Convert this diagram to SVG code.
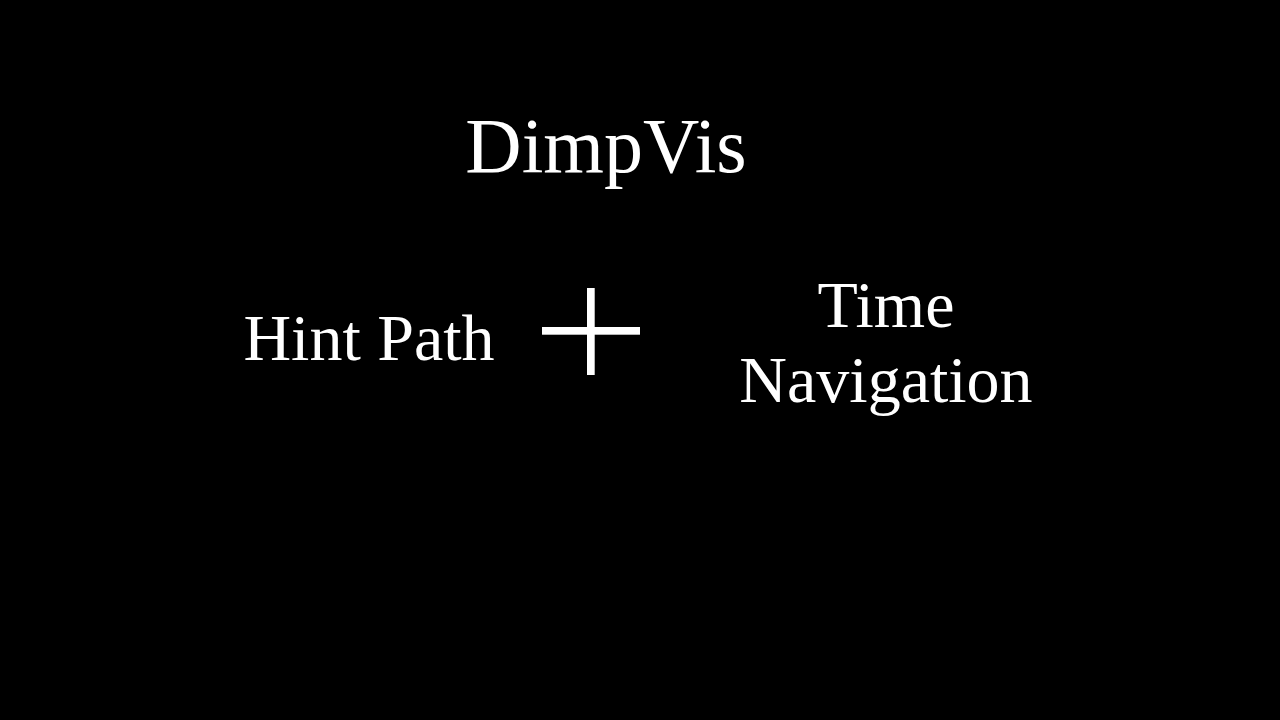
<svg xmlns="http://www.w3.org/2000/svg" width="1280" height="720" viewBox="0 0 1280 720">
<style>
.t{font-family:"Liberation Serif","DejaVu Serif",serif;fill:#fff}
</style>
<rect width="1280" height="720" fill="#000"/>
<g id="title"><text class="t" x="606" y="172" font-size="78" text-anchor="middle">DimpVis</text></g>
<g id="hint-path"><text class="t" x="369" y="360" font-size="66" text-anchor="middle">Hint Path</text></g>
<g id="plus"><rect x="542" y="327" width="98" height="7.7" fill="#fff"/><rect x="587" y="288" width="7.7" height="87" fill="#fff"/></g>
<g id="time-navigation"><text class="t" x="886" y="327" font-size="66" text-anchor="middle">Time</text><text class="t" x="886" y="402" font-size="66" text-anchor="middle">Navigation</text></g>
<g id="connectors"/>
</svg>
